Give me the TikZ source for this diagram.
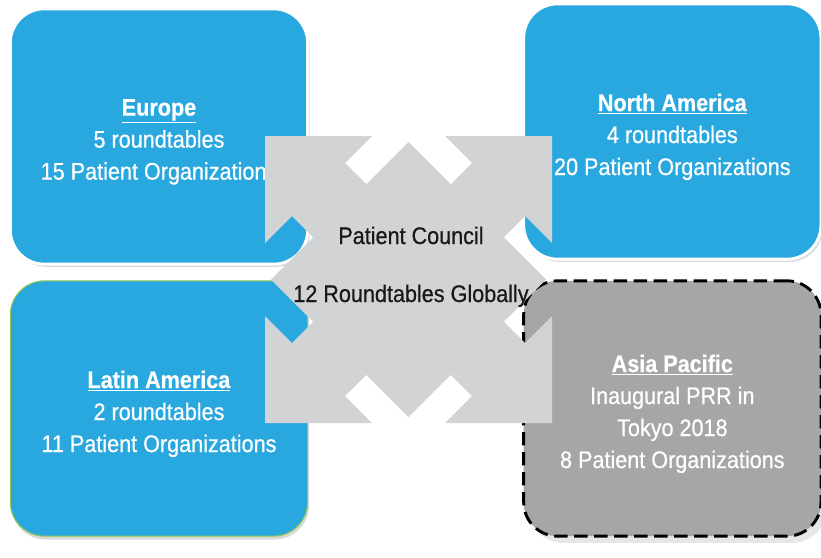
\documentclass[tikz,border=0pt]{standalone}
\usepackage{fontspec}
\setmainfont{Liberation Sans}[FakeStretch=0.9, FakeBold=0.6]
\usetikzlibrary{positioning,shadows}
\definecolor{regblue}{RGB}{41,168,224}
\definecolor{hubgray}{RGB}{209,211,212}
\definecolor{apgray}{RGB}{166,166,166}
\definecolor{lagreen}{RGB}{150,200,80}
\colorlet{hubtext}{black!90}

\begin{document}
\begin{tikzpicture}[%
    x=0.75pt, y=-0.75pt,          % work on the pixel grid, y going down
    node distance=204pt and 385pt, % centre to centre of the region boxes
    every node/.style={font=\fontsize{18}{24}\selectfont}
    ]
% -------------------------------------------------
% Box styles
\tikzset{
  region/.style={rectangle, on grid, rounded corners=25.5pt,
    minimum width=223pt, minimum height=191.5pt, inner sep=0pt},
  bluebox/.style={region, fill=regblue, draw=white, line width=2.2pt,
    drop shadow={shadow xshift=1.5pt, shadow yshift=-2pt, opacity=0.3}},
  greenbox/.style={region, fill=regblue, draw=lagreen, line width=0.8pt,
    drop shadow={shadow xshift=1pt, shadow yshift=-2.5pt, opacity=0.3}},
  dashbox/.style={region, fill=apgray, draw=black, line width=2.2pt,
    dash pattern=on 10pt off 5pt,
    drop shadow={shadow xshift=4pt, shadow yshift=-5pt, opacity=0.2}},
  % region texts sit a little below the box centre
  regtext/.style={align=center, text=white, yshift=-4pt},
  hub/.style={fill=hubgray},
  hublabel/.style={anchor=base, text=hubtext}
}
\useasboundingbox (0,0) rectangle (821,557);
% -------------------------------------------------
% The four regions
\node [bluebox] (eu) at (159,136.5) {};
\node [bluebox, right=of eu, yshift=3.75pt] (na) {};
\node [greenbox, below=of eu] (la) {};
\node [dashbox, right=of la] (ap) {};

\node [regtext] (eutext) at (eu)
  {\underline{\textbf{Europe}}\\5 roundtables\\15 Patient Organizations};
\node [regtext] (natext) at (na)
  {\underline{\textbf{North America}}\\4 roundtables\\20 Patient Organizations};
\node [regtext] (latext) at (la)
  {\underline{\textbf{Latin America}}\\2 roundtables\\11 Patient Organizations};
\node [regtext] (aptext) at (ap)
  {\underline{\textbf{Asia Pacific}}\\Inaugural PRR in\\Tokyo 2018\\8 Patient Organizations};

% -------------------------------------------------
% Patient council in the middle, with a chevron cut in each side
\fill [hub] (265,136)
  -- (372,136) -- (345,163) -- (366.25,184.25) -- (408.5,142)
  -- (450.75,184.25) -- (472,163) -- (445,136) -- (552,136)
  -- (552,243) -- (525,216) -- (503.75,237.25) -- (546,279.5)
  -- (503.75,321.75) -- (525,343) -- (552,316) -- (552,423)
  -- (445,423) -- (472,396) -- (450.75,374.75) -- (408.5,417)
  -- (366.25,374.75) -- (345,396) -- (372,423) -- (265,423)
  -- (265,316) -- (292,343) -- (313.25,321.75) -- (271,279.5)
  -- (313.25,237.25) -- (292,216) -- (265,243) -- cycle;

\node [hublabel] (council) at (411,244) {Patient Council};
\node [hublabel] (globally) at (411,302) {12 Roundtables Globally};
% -------------------------------------------------
\end{tikzpicture}
\end{document}
